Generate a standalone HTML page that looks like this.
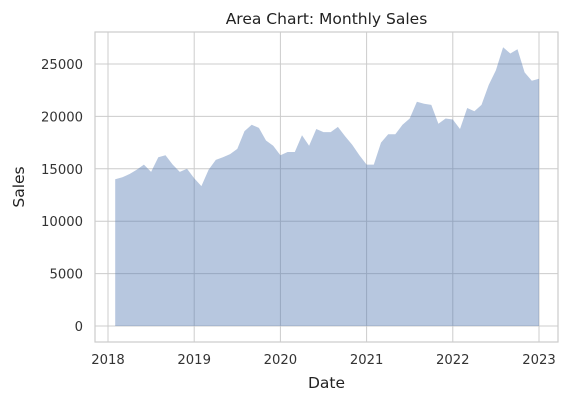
<!DOCTYPE html>
<html><head><meta charset="utf-8"><style>
body{margin:0;background:#fff;}
svg{display:block;font-family:"DejaVu Sans","Liberation Sans",sans-serif;}
</style></head><body>
<svg id="chart" width="569" height="402"></svg>
<script>
const years=[2018,2019,2020,2021,2022,2023];
const yTicks=[0,5000,10000,15000,20000,25000];
const sales2018=[14000,14200,14500,14900,15400,14700,16100,16300,15400,14700,15000,14100];
const sales2019=[13350,14900,15850,16100,16400,16900,18600,19200,18900,17700,17200,16300];
const sales2020=[16600,16600,18200,17200,18800,18500,18500,19000,18100,17300,16300,15400];
const sales2021=[15400,17500,18300,18300,19200,19800,21400,21200,21100,19300,19800,19700];
const sales2022=[18800,20800,20500,21100,23000,24400,26600,26000,26400,24200,23400,23600];
const sales=[].concat(sales2018,sales2019,sales2020,sales2021,sales2022);
const NS="http://www.w3.org/2000/svg";
const svg=document.getElementById('chart');
const L=95,R=558,T=32,B=342;
const x=t=>108+(t-2018)*86.2;
const y=v=>326-v*(262/25000);
function mk(tag,a,p){const e=document.createElementNS(NS,tag);for(const k in a)e.setAttribute(k,a[k]);(p||svg).appendChild(e);return e;}
yTicks.forEach(v=>{
 const g=mk('line',{x1:L,x2:R,y1:y(v),y2:y(v),stroke:'#cccccc','stroke-width':1});
 
 
 const t=mk('text',{x:83,y:y(v)+5,'text-anchor':'end','font-size':13.2,fill:'#333'});
 t.textContent=v;
 
 
});
years.forEach(v=>{
 const g=mk('line',{x1:x(v),x2:x(v),y1:T,y2:B,stroke:'#cccccc','stroke-width':1});
 
 
 const t=mk('text',{x:x(v),y:364,'text-anchor':'middle','font-size':13.2,fill:'#333'});
 t.textContent=v;
 
 
});
let d='';
sales.forEach((v,i)=>{const t=2018+(i+1)/12;d+=(i?'L':'M')+x(t).toFixed(1)+','+y(v).toFixed(1);});
d+='L'+x(2018+60/12).toFixed(1)+','+y(0)+'L'+x(2018+1/12).toFixed(1)+','+y(0)+'Z';
const a=mk('path',{d:d,fill:'rgba(76,114,176,0.4)'});


const fr=mk('rect',{x:L,y:T,width:R-L,height:B-T,fill:'none',stroke:'#cccccc','stroke-width':1.2});


const ti=mk('text',{x:(L+R)/2,y:24,'text-anchor':'middle','font-size':15.5,fill:'#222'});
ti.textContent='Area Chart: Monthly Sales';


const xl=mk('text',{x:(L+R)/2,y:388,'text-anchor':'middle','font-size':15.5,fill:'#222'});
xl.textContent='Date';


const yl=mk('text',{x:0,y:0,transform:'translate(24,187) rotate(-90)','text-anchor':'middle','font-size':15.5,fill:'#222'});
yl.textContent='Sales';


</script>
</body></html>
